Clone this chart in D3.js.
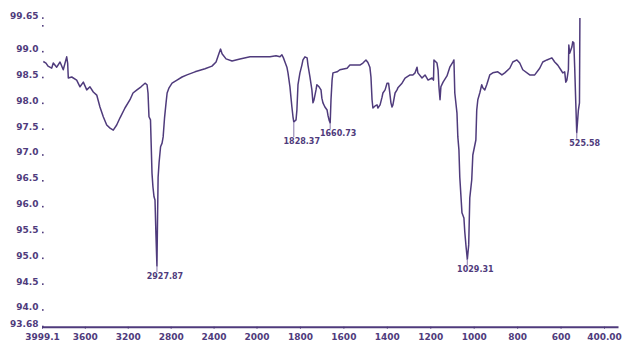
<!DOCTYPE html>
<html>
<head>
<meta charset="utf-8">
<script src="https://cdn.jsdelivr.net/npm/d3@7"></script>
<style>
  html, body { margin: 0; padding: 0; background: #ffffff; }
  svg { display: block; }
  text { font-family: "DejaVu Sans", sans-serif; font-weight: bold; fill: #4f3b7c; }
</style>
</head>
<body>
<svg id="chart" width="626" height="347"></svg>
<script>
// FTIR spectrum: wavenumber (cm-1) vs transmittance (%T)
const wavenumber = [
  3987, 3962, 3943, 3909, 3894, 3862, 3831, 3801, 3769, 3760, 3754, 3722, 3676, 3645, 3614,
  3582, 3552, 3521, 3489, 3459, 3428, 3396, 3365, 3335, 3303, 3272, 3226, 3179, 3151, 3114,
  3076, 3039, 3020, 3011, 3002, 2988, 2974, 2965, 2955, 2946, 2937, 2927.87, 2922, 2917, 2908,
  2894, 2880, 2870, 2857, 2843, 2833, 2815, 2787, 2741, 2694, 2648, 2573, 2480, 2415, 2377,
  2349, 2335, 2321, 2284, 2228, 2154, 2060, 2000, 1984, 1938, 1910, 1892, 1883, 1876, 1869,
  1860, 1855, 1846, 1841, 1837, 1832, 1828.37, 1818, 1814, 1809, 1800, 1791, 1786, 1777, 1767,
  1763, 1754, 1745, 1740, 1735, 1726, 1722, 1712, 1703, 1699, 1694, 1685, 1675, 1671, 1666,
  1660.73, 1657, 1652, 1648, 1629, 1616, 1583, 1570, 1547, 1524, 1510, 1496, 1487, 1478, 1473,
  1468, 1464, 1454, 1445, 1441, 1431, 1422, 1418, 1408, 1399, 1392, 1388, 1381, 1376, 1372,
  1362, 1353, 1349, 1330, 1316, 1293, 1280, 1270, 1261, 1257, 1238, 1224, 1210, 1192, 1185,
  1183, 1169, 1164, 1160, 1155, 1151, 1141, 1123, 1110, 1096, 1091, 1087, 1077, 1073, 1068,
  1064, 1054, 1045, 1041, 1035, 1029.31, 1023, 1018, 1009, 1004, 990, 986, 981, 972, 963,
  958, 949, 940, 926, 912, 889, 870, 857, 834, 820, 801, 788, 774, 742, 719,
  696, 682, 663, 640, 627, 613, 599, 590, 581, 576, 571, 564, 562, 558, 548,
  544, 539, 535, 530, 525.58, 518, 513, 511
];
const transmittance = [
  98.81, 98.78, 98.72, 98.68, 98.78, 98.70, 98.80, 98.65, 98.90, 98.78, 98.49, 98.51, 98.45, 98.32, 98.41,
  98.26, 98.32, 98.22, 98.16, 97.93, 97.74, 97.58, 97.52, 97.48, 97.58, 97.72, 97.91, 98.07, 98.20, 98.26,
  98.32, 98.39, 98.36, 98.20, 97.74, 97.68, 96.65, 96.38, 96.19, 96.13, 95.45, 94.85, 95.80, 96.57, 96.85,
  97.16, 97.23, 97.35, 97.72, 98.01, 98.20, 98.30, 98.39, 98.45, 98.51, 98.55, 98.61, 98.67, 98.72, 98.80,
  98.97, 99.05, 98.96, 98.86, 98.82, 98.86, 98.90, 98.90, 98.90, 98.90, 98.92, 98.90, 98.94, 98.88, 98.80,
  98.70, 98.59, 98.32, 98.10, 97.93, 97.74, 97.64, 97.68, 97.87, 98.36, 98.59, 98.74, 98.84, 98.90, 98.88,
  98.74, 98.51, 98.26, 98.01, 98.07, 98.26, 98.36, 98.32, 98.26, 98.10, 98.01, 97.93, 97.87, 97.77, 97.68,
  97.62, 98.07, 98.45, 98.59, 98.61, 98.65, 98.68, 98.74, 98.74, 98.74, 98.78, 98.84, 98.79, 98.70, 98.51,
  98.07, 97.91, 97.95, 97.97, 97.91, 97.97, 98.12, 98.20, 98.26, 98.39, 98.39, 98.26, 98.01, 97.93, 97.97,
  98.20, 98.26, 98.30, 98.39, 98.49, 98.55, 98.55, 98.59, 98.70, 98.59, 98.49, 98.55, 98.45, 98.49, 98.45,
  98.84, 98.78, 98.65, 98.32, 98.07, 98.32, 98.41, 98.53, 98.70, 98.80, 98.84, 98.20, 97.81, 97.35, 97.10,
  96.57, 95.88, 95.78, 95.51, 95.22, 94.98, 95.26, 96.17, 96.52, 97.00, 97.29, 97.87, 98.07, 98.20, 98.36,
  98.30, 98.26, 98.36, 98.55, 98.59, 98.61, 98.55, 98.59, 98.68, 98.80, 98.84, 98.78, 98.65, 98.55, 98.55,
  98.68, 98.80, 98.84, 98.88, 98.80, 98.74, 98.65, 98.59, 98.61, 98.41, 98.45, 98.65, 99.13, 98.97, 99.09,
  99.19, 99.17, 98.70, 98.01, 97.43, 97.87, 98.01, 99.65
];

// Marked absorption peaks
const peakWavenumber = [2927.87, 1828.37, 1660.73, 1029.31, 525.58];
const peakTransmittance = [94.85, 97.64, 97.62, 94.98, 97.43];

// Axis ticks
const xTickValues = [3999.1, 3600, 3200, 2800, 2400, 2000, 1800, 1600, 1400, 1200, 1000, 800, 600, 400];
const xTickLabels = ["3999.1", "3600", "3200", "2800", "2400", "2000", "1800", "1600", "1400", "1200", "1000", "800", "600", "400.00"];
const yTickValues = [93.68, 94.0, 94.5, 95.0, 95.5, 96.0, 96.5, 97.0, 97.5, 98.0, 98.5, 99.0, 99.5, 99.65];
const yTickLabels = ["93.68", "94.0", "94.5", "95.0", "95.5", "96.0", "96.5", "97.0", "97.5", "98.0", "98.5", "99.0", "", "99.65"];

const ink = "#4f3b7c";
const inkLight = "#9a8cb8";

const svg = d3.select("#chart");

// Scale expands by 2x below 2000 cm-1
const x = d3.scaleLinear()
  .domain([3999.1, 2000, 335.6])
  .range([42, 256.5, 618]);

const y = d3.scaleLinear()
  .domain([93.68, 99.65])
  .range([326.5, 18.1]);

// X axis
const xAxis = d3.axisBottom(x)
  .tickValues(xTickValues)
  .tickFormat((d, i) => xTickLabels[i])
  .tickSize(2)
  .tickSizeOuter(0)
  .tickPadding(5);

const gx = svg.append("g")
  .attr("transform", "translate(0,326.7)")
  .call(xAxis);
gx.select(".domain").attr("stroke", ink).attr("stroke-width", 2);
gx.selectAll(".tick line").attr("stroke", ink).attr("stroke-width", 1);
gx.selectAll(".tick text")
  .attr("fill", ink)
  .style("font-family", "'DejaVu Sans', sans-serif")
  .style("font-weight", "bold")
  .style("font-size", "9px");

// Y axis: dot ticks with right-aligned labels
const gy = svg.append("g");
gy.selectAll("rect")
  .data(yTickValues)
  .join("rect")
  .attr("x", 42)
  .attr("y", d => y(d) - 0.8)
  .attr("width", 1.6)
  .attr("height", 1.6)
  .attr("fill", ink);
gy.selectAll("text")
  .data(yTickValues)
  .join("text")
  .attr("x", 38.5)
  .attr("y", d => y(d) + 0.5)
  .attr("text-anchor", "end")
  .style("font-size", "9px")
  .text((d, i) => yTickLabels[i]);

// Spectrum line
const points = wavenumber.map((w, i) => [w, transmittance[i]]);
const line = d3.line()
  .x(d => x(d[0]))
  .y(d => y(d[1]));

svg.append("path")
  .datum(points)
  .attr("fill", "none")
  .attr("stroke", ink)
  .attr("stroke-width", 1.5)
  .attr("stroke-linejoin", "round")
  .attr("d", line);

// Peak markers: short drop line and wavenumber label, nudged down on overlap
const fmt = d3.format(".2f");
const peaks = peakWavenumber
  .map((w, i) => ({ w, t: peakTransmittance[i] }))
  .sort((a, b) => a.w - b.w);

const placed = [];
const labelW = 40, labelH = 7.5, labelStep = 9;
peaks.forEach(p => {
  const px = x(p.w);
  const py = y(p.t);
  let cy = py + 10;
  const cx = px + 8;
  let hit = true;
  while (hit) {
    hit = placed.some(b => Math.abs(b.cx - cx) < labelW && Math.abs(b.cy - cy) < labelH);
    if (hit) cy += labelStep;
  }
  placed.push({ cx, cy });

  svg.append("line")
    .attr("x1", px).attr("x2", px)
    .attr("y1", py).attr("y2", cy - 4)
    .attr("stroke", inkLight)
    .attr("stroke-width", 1.2);

  svg.append("text")
    .attr("x", cx)
    .attr("y", cy + 3)
    .attr("text-anchor", "middle")
    .style("font-size", "8px")
    .text(fmt(p.w));
});
</script>
</body>
</html>
